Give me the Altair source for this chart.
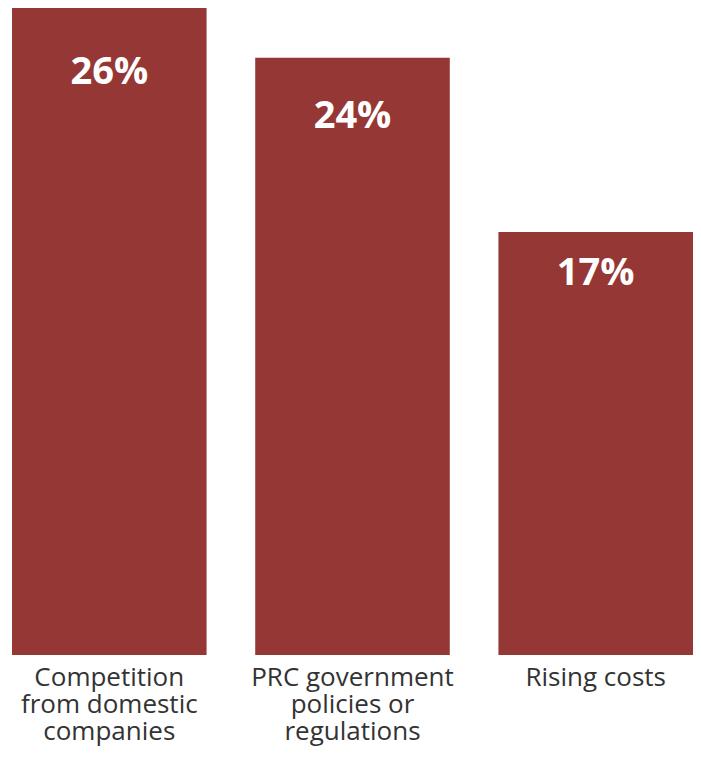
import altair as alt
import pandas as pd

categories = ["Competition|from domestic|companies", "PRC government|policies or|regulations", "Rising costs"]
values = [26, 24, 17]
labels = ["26%", "24%", "17%"]

df = pd.DataFrame({"category": categories, "value": values, "label": labels})

BAR = "#953735"

x = alt.X("category:N", sort=categories, title=None,
          scale=alt.Scale(paddingInner=0.2, paddingOuter=0),
          axis=alt.Axis(labelExpr="split(datum.value, '|')", labelAngle=0,
                        labelFont="Open Sans", labelFontSize=26, labelColor="#333333",
                        labelLineHeight=27, labelPadding=9, labelBaseline="top",
                        labelLimit=400,
                        domain=False, ticks=False, grid=False))
y = alt.Y("value:Q", scale=alt.Scale(domain=[0, 26], nice=False, zero=True), axis=None)

bars = alt.Chart(df).mark_bar(color=BAR).encode(x=x, y=y)

text = alt.Chart(df).transform_calculate(pos="datum.value * 0.9").mark_text(
    color="white", font="Open Sans", fontWeight="bold", fontSize=38, baseline="middle"
).encode(x=x, y=alt.Y("pos:Q", scale=alt.Scale(domain=[0, 26], nice=False), axis=None),
         text="label:N")

chart = (bars + text).properties(
    width=681, height=647,
    padding={"left": 4, "top": 0, "right": 0, "bottom": 6},
    background="white"
).configure_view(stroke=None)

chart.save("out.html", embed_options={"renderer": "svg", "actions": False})
